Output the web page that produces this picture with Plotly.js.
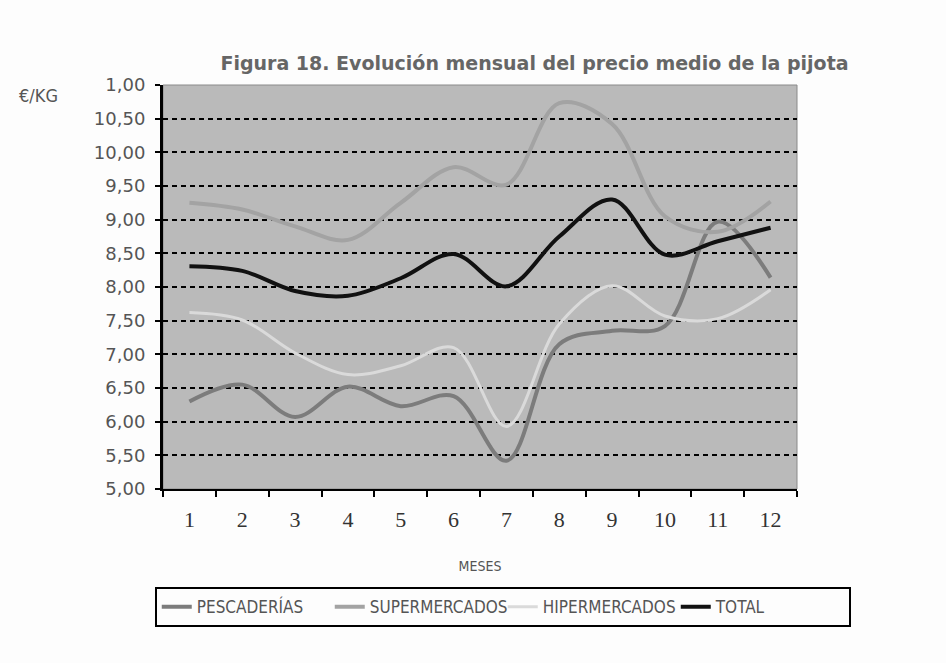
<!DOCTYPE html>
<html>
<head>
<meta charset="utf-8">
<script src="https://cdn.plot.ly/plotly-3.0.1.min.js"></script>
<style>
  html, body { margin: 0; padding: 0; background: #fdfdfd; }
  #chart { width: 946px; height: 663px; }
</style>
</head>
<body>
<div id="chart"></div>
<script>
// monthly average price of pijota, €/kg
var months = ["1", "2", "3", "4", "5", "6", "7", "8", "9", "10", "11", "12"];
var pescaderias = [6.30, 6.55, 6.07, 6.52, 6.23, 6.38, 5.42, 7.15, 7.35, 7.42, 8.97, 8.14];
var supermercados = [9.25, 9.15, 8.90, 8.70, 9.25, 9.78, 9.52, 10.73, 10.42, 9.05, 8.82, 9.27];
var hipermercados = [7.62, 7.51, 7.02, 6.70, 6.83, 7.10, 5.93, 7.45, 8.02, 7.57, 7.53, 7.96];
var total = [8.31, 8.24, 7.94, 7.87, 8.13, 8.49, 8.01, 8.75, 9.30, 8.48, 8.68, 8.88];

var yTicks = [5, 5.5, 6, 6.5, 7, 7.5, 8, 8.5, 9, 9.5, 10, 10.5, 11];
var yLabels = ["5,00", "5,50", "6,00", "6,50", "7,00", "7,50", "8,00", "8,50",
               "9,00", "9,50", "10,00", "10,50", "1,00"];

function serie(name, values, color, width) {
    return {
        x: months,
        y: values,
        name: name,
        type: "scatter",
        mode: "lines",
        line: {color: color, width: width, shape: "spline", smoothing: 1}
    };
}

var data = [
    serie("PESCADERÍAS", pescaderias, "#7c7c7c", 4),
    serie("SUPERMERCADOS", supermercados, "#a3a3a3", 4),
    serie("HIPERMERCADOS", hipermercados, "#dadada", 3),
    serie("TOTAL", total, "#111111", 4)
];

var layout = {
    width: 946,
    height: 663,
    margin: {l: 163, r: 149, t: 85, b: 174},
    paper_bgcolor: "#fdfdfd",
    plot_bgcolor: "#bababa",
    showlegend: true,
    title: {
        text: "<b>Figura 18. Evolución mensual del precio medio de la pijota</b>",
        font: {family: "DejaVu Sans", size: 19, color: "#666666"},
        x: 0.565, xanchor: "center",
        y: 0.905, yanchor: "middle"
    },
    xaxis: {
        type: "category",
        range: [-0.5, 11.5],
        tickson: "boundaries",
        ticks: "outside",
        ticklen: 6,
        tickwidth: 2,
        tickcolor: "#000",
        ticklabelstandoff: 10,
        showline: true,
        linecolor: "#000",
        linewidth: 2,
        showgrid: false,
        tickfont: {family: "Liberation Serif", size: 22, color: "#333"},
        title: {
            text: "MESES",
            font: {family: "DejaVu Sans Condensed", size: 14, color: "#555"},
            standoff: 30
        }
    },
    yaxis: {
        range: [5, 11],
        tickvals: yTicks,
        ticktext: yLabels,
        ticks: "outside",
        ticklen: 5,
        tickwidth: 2,
        tickcolor: "#000",
        ticklabelstandoff: 6,
        showline: true,
        linecolor: "#000",
        linewidth: 3,
        showgrid: true,
        gridcolor: "#000",
        gridwidth: 2,
        griddash: "5px,4px",
        zeroline: false,
        tickfont: {family: "DejaVu Sans", size: 18, color: "#555"}
    },
    legend: {
        orientation: "h",
        x: -0.013, xanchor: "left",
        y: -0.243, yanchor: "top",
        bgcolor: "#fdfdfd",
        bordercolor: "#000",
        borderwidth: 2,
        entrywidth: 128,
        font: {family: "DejaVu Sans Condensed", size: 17, color: "#555"}
    },
    shapes: [{
        type: "rect", xref: "paper", yref: "paper",
        x0: 0, x1: 1, y0: 0, y1: 1,
        line: {color: "#8a8a8a", width: 1},
        layer: "below"
    }],
    annotations: [{
        text: "€/KG",
        xref: "paper", yref: "paper",
        x: -0.196, y: 0.975,
        xanchor: "center", yanchor: "middle",
        showarrow: false,
        font: {family: "DejaVu Sans Condensed", size: 18, color: "#555"}
    }]
};

Plotly.newPlot("chart", data, layout, {displayModeBar: false});
</script>
</body>
</html>
